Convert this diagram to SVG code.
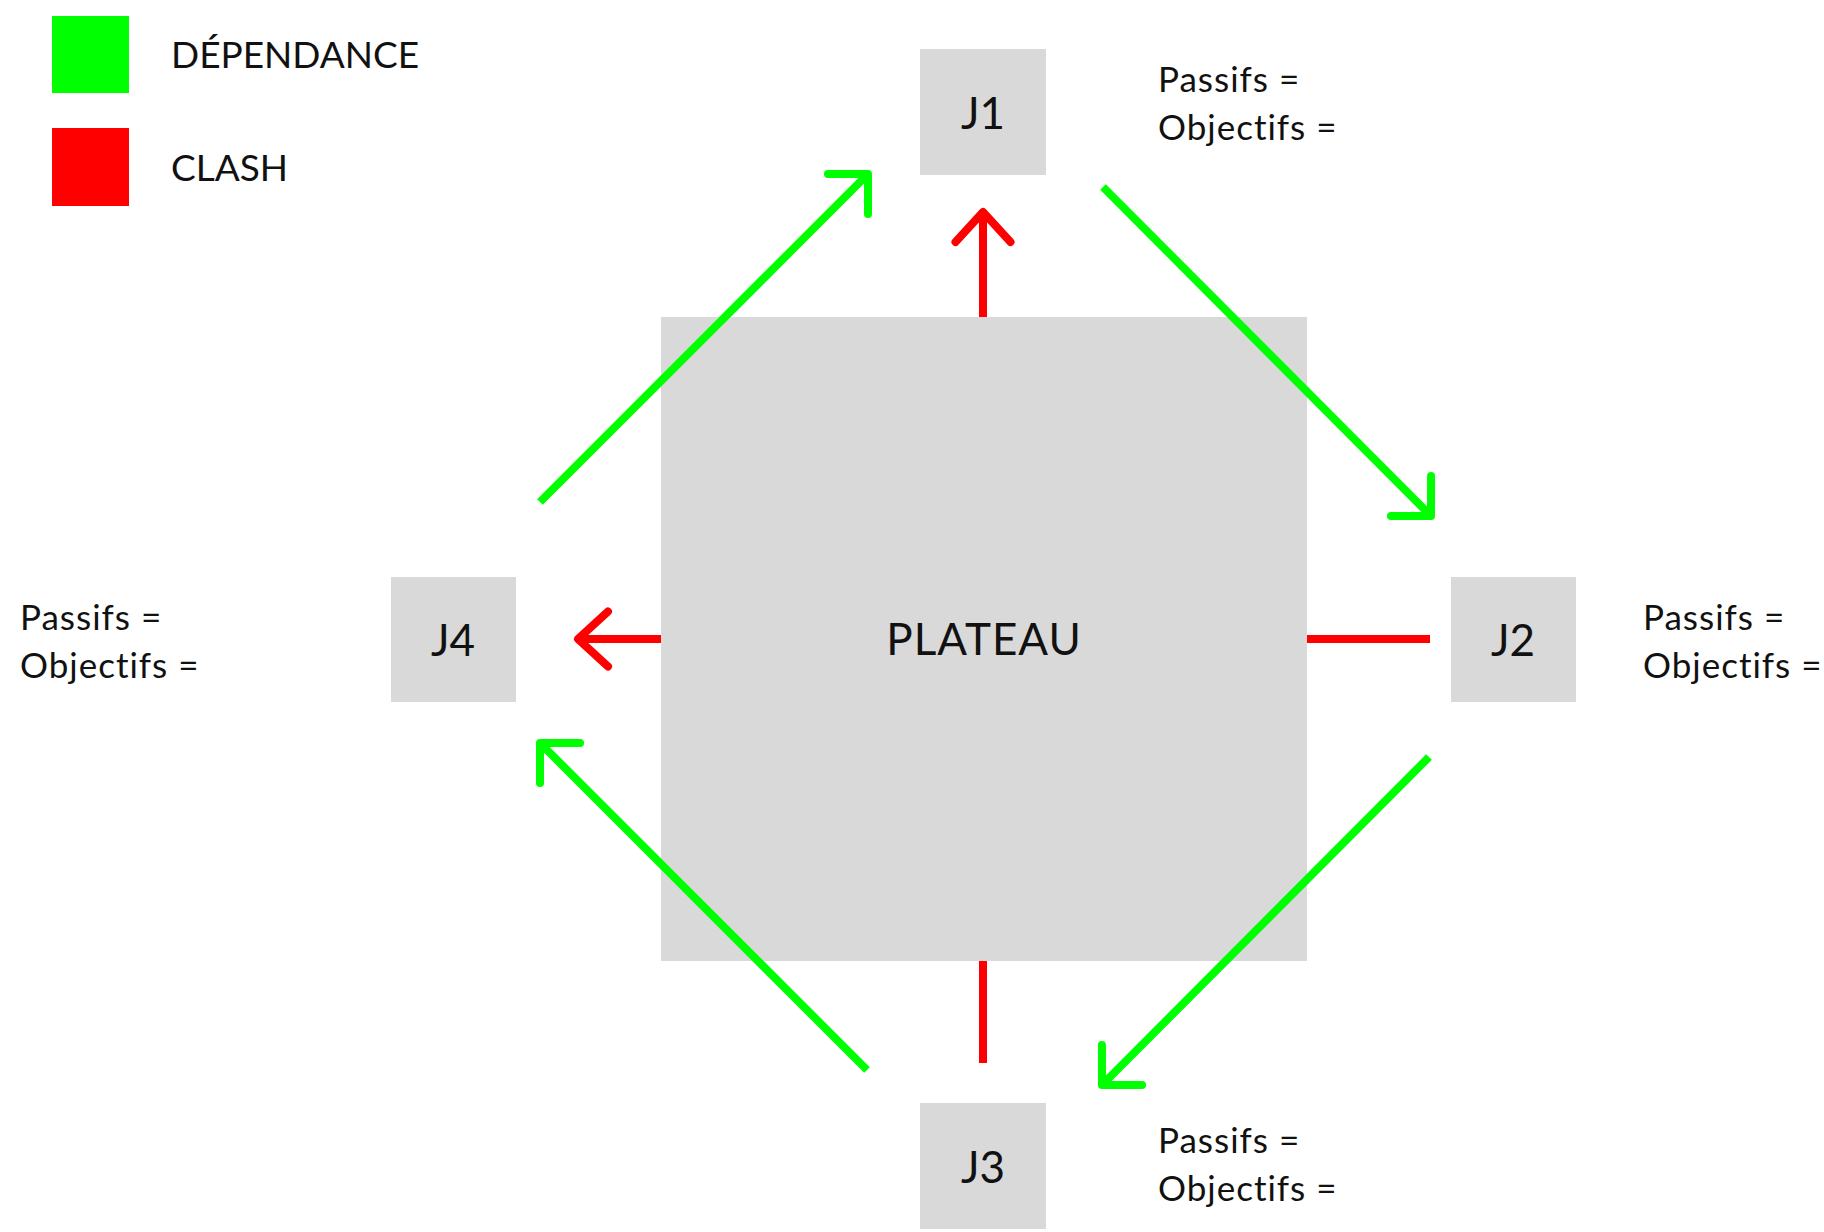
<svg xmlns="http://www.w3.org/2000/svg" width="1824" height="1232" viewBox="0 0 1824 1232">
<style>
  .box { fill: #d9d9d9; }
  .t { font-family: Lato, "Liberation Sans", sans-serif; fill: #111111; }
  .lbl { font-size: 44px; text-anchor: middle; }
  .wide { letter-spacing: 1px; }
  .info { font-size: 35px; letter-spacing: 1px; }
  .leg { font-size: 37px; }
  .g { stroke: #00ff00; stroke-width: 8; fill: none; }
  .r { stroke: #ff0000; stroke-width: 8; fill: none; }
</style>
<defs>
  <marker id="hg" markerUnits="userSpaceOnUse" markerWidth="80" markerHeight="80" refX="40" refY="40" orient="auto" viewBox="0 0 80 80">
    <path d="M 11.7 11.7 L 40 40 L 11.7 68.3" stroke="#00ff00" stroke-width="8" fill="none" stroke-linecap="round" stroke-linejoin="round"/>
  </marker>
  <marker id="hr" markerUnits="userSpaceOnUse" markerWidth="80" markerHeight="80" refX="40" refY="40" orient="auto" viewBox="0 0 80 80">
    <path d="M 10 12.5 L 40 40 L 10 67.5" stroke="#ff0000" stroke-width="8" fill="none" stroke-linecap="round" stroke-linejoin="round"/>
  </marker>
</defs>
<g id="legend">
  <rect x="52" y="16" width="77" height="77" fill="#00ff00"/>
  <text class="t leg" x="171" y="68">DÉPENDANCE</text>
  <rect x="52" y="128" width="77" height="78" fill="#ff0000"/>
  <text class="t leg" x="171" y="181">CLASH</text>
</g>
<g id="plateau">
  <rect class="box" x="661" y="317" width="646" height="644"/>
  <text class="t lbl wide" x="984" y="655">PLATEAU</text>
</g>
<g id="connectors">
  <line class="g" x1="540" y1="502" x2="868" y2="174" marker-end="url(#hg)"/>
  <line class="g" x1="1103" y1="187" x2="1431" y2="516" marker-end="url(#hg)"/>
  <line class="g" x1="1429" y1="757" x2="1102" y2="1085" marker-end="url(#hg)"/>
  <line class="g" x1="867" y1="1070" x2="540" y2="743" marker-end="url(#hg)"/>
  <line class="r" x1="983" y1="317" x2="983" y2="212" marker-end="url(#hr)"/>
  <line class="r" x1="1307" y1="639" x2="1430" y2="639"/>
  <line class="r" x1="983" y1="961" x2="983" y2="1063"/>
  <line class="r" x1="661" y1="639" x2="578" y2="639" marker-end="url(#hr)"/>
</g>
<g id="j1">
  <rect class="box" x="920" y="49" width="126" height="126"/>
  <text class="t lbl" x="983" y="129">J1</text>
  <text class="t info" x="1158" y="92">Passifs =</text>
  <text class="t info" x="1158" y="140">Objectifs =</text>
</g>
<g id="j2">
  <rect class="box" x="1451" y="577" width="125" height="125"/>
  <text class="t lbl" x="1513" y="656">J2</text>
  <text class="t info" x="1643" y="630">Passifs =</text>
  <text class="t info" x="1643" y="678">Objectifs =</text>
</g>
<g id="j3">
  <rect class="box" x="920" y="1103" width="126" height="126"/>
  <text class="t lbl" x="983" y="1183">J3</text>
  <text class="t info" x="1158" y="1153">Passifs =</text>
  <text class="t info" x="1158" y="1201">Objectifs =</text>
</g>
<g id="j4">
  <rect class="box" x="391" y="577" width="125" height="125"/>
  <text class="t lbl" x="453" y="656">J4</text>
  <text class="t info" x="20" y="630">Passifs =</text>
  <text class="t info" x="20" y="678">Objectifs =</text>
</g>
</svg>
